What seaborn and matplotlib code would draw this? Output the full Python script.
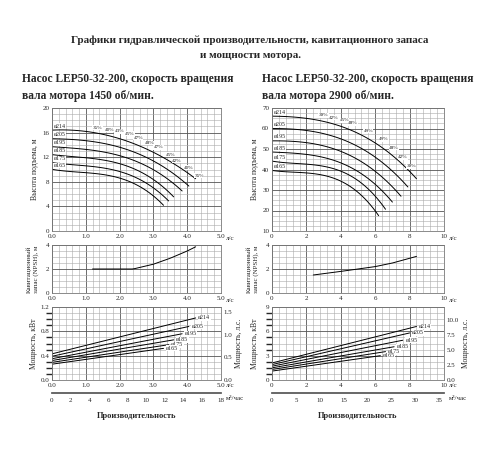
import numpy as np, pandas as pd, matplotlib
matplotlib.use("Agg")
import matplotlib.pyplot as plt
import seaborn as sns
sns.set_theme(style="white")
plt.rcParams['font.family'] = ['Liberation Serif', 'DejaVu Serif']

impellers = ["ø214", "ø205", "ø195", "ø185", "ø175", "ø165"]
# left pump, 1450 rpm
L_q = [[0, 1, 2, 3, 4, 4.25], [0, 1, 2, 3, 4.05], [0, 1, 2, 3, 3.85],
       [0, 1, 2, 3, 3.6], [0, 1, 2, 3, 3.45], [0, 1, 2, 3, 3.3]]
L_h = [[16.4, 16.2, 15.0, 12.8, 9.5, 8.5], [15.0, 14.7, 13.6, 11.4, 7.3],
       [13.7, 13.3, 12.2, 10.0, 6.5], [12.4, 12.0, 10.8, 8.5, 5.5],
       [11.1, 10.7, 9.5, 7.2, 4.8], [10.0, 9.6, 8.4, 6.0, 4.0]]
L_eff_q = [1.35, 1.7, 2.0, 2.3, 2.55, 2.9, 3.15, 3.5, 3.7, 4.05, 4.35]
L_eff_h = [16.8, 16.5, 16.2, 15.8, 15.2, 14.3, 13.6, 12.4, 11.4, 10.3, 9.0]
L_eff = ["35%", "40%", "43%", "45%", "47%", "48%", "47%", "45%", "42%", "40%", "35%"]
L_npsh_q = [1.2, 2.4, 3.0, 3.5, 4.0, 4.25]
L_npsh = [2.0, 2.0, 2.4, 2.9, 3.5, 3.85]
L_p0 = [0.43, 0.39, 0.35, 0.32, 0.29, 0.26]
L_p1 = [1.02, 0.88, 0.76, 0.66, 0.58, 0.52]
L_pq = [4.25, 4.05, 3.85, 3.6, 3.45, 3.3]
# right pump, 2900 rpm
R_q = [[0, 2, 4, 6, 8.4], [0, 2, 4, 6, 7.9], [0, 2, 4, 6, 7.5],
       [0, 2, 4, 6, 7.0], [0, 2, 4, 6, 6.6], [0, 2, 4, 6, 6.2]]
R_h = [[66, 65, 61, 53, 35.5], [60, 59, 55, 46, 31.5], [54, 53, 49, 39, 27],
       [48.5, 47.5, 43, 33, 24], [44, 43, 38.5, 28, 20], [39.5, 38.5, 34, 21, 16.5]]
R_eff_q = [3.0, 3.6, 4.2, 4.7, 5.6, 6.5, 7.1, 7.6, 8.1]
R_eff_h = [66.5, 65.3, 64, 62.5, 58.8, 54.8, 50.5, 46, 41.5]
R_eff = ["39%", "42%", "45%", "48%", "49%", "49%", "48%", "42%", "39%"]
R_npsh_q = [2.4, 4.0, 6.0, 7.0, 8.4]
R_npsh = [1.5, 1.8, 2.2, 2.5, 3.05]
R_p0 = [2.1, 1.9, 1.7, 1.5, 1.3, 1.1]
R_p1 = [6.6, 5.8, 4.9, 4.1, 3.5, 3.0]
R_pq = [8.4, 8.0, 7.6, 7.1, 6.6, 6.3]

fig = plt.figure(figsize=(5, 4.5), dpi=100)
W, H = 500, 450
def ax_at(x0, y0, x1, y1):
    return fig.add_axes([x0 / W, 1 - y1 / H, (x1 - x0) / W, (y1 - y0) / H])

fig.text(0.5, 1 - 40 / H, "Графики гидравлической производительности, кавитационного запаса",
         ha="center", va="center", fontsize=8, weight="bold")
fig.text(0.5, 1 - 55 / H, "и мощности мотора.", ha="center", va="center", fontsize=8, weight="bold")
for x0, rpm in [(22, "1450"), (262, "2900")]:
    fig.text(x0 / W, 1 - 79 / H, "Насос LEP50-32-200, скорость вращения", fontsize=8.3, weight="bold", va="center")
    fig.text(x0 / W, 1 - 96 / H, f"вала мотора {rpm} об/мин.", fontsize=8.3, weight="bold", va="center")

BOX = dict(facecolor="white", edgecolor="none", pad=0.3)

def style(ax, xmax, xmaj, ymin, ymax, ymaj, nminx=5, nminy=4):
    ax.set_xlim(0, xmax); ax.set_ylim(ymin, ymax)
    ax.set_xticks(np.arange(0, xmax + 1e-9, xmaj))
    ax.set_yticks(np.arange(ymin, ymax + 1e-9, ymaj))
    ax.set_xticks(np.linspace(0, xmax, int(round(xmax / xmaj)) * nminx + 1), minor=True)
    ax.set_yticks(np.linspace(ymin, ymax, int(round((ymax - ymin) / ymaj)) * nminy + 1), minor=True)
    ax.grid(True, which="major", color="#555", lw=0.6)
    ax.grid(True, which="minor", color="#aaa", lw=0.4)
    ax.tick_params(labelsize=5, length=0, pad=2)
    for s in ax.spines.values():
        s.set_color("#777"); s.set_linewidth(0.6)

def lines(ax, qs, hs):
    rows = []
    for name, q, h in zip(impellers, qs, hs):
        rows += [dict(d=name, q=a, h=b) for a, b in zip(q, h)]
    df = pd.DataFrame(rows)
    for name in impellers:
        sub = df[df.d == name]
        qq = np.linspace(sub.q.min(), sub.q.max(), 40)
        c = np.polyfit(sub.q, sub.h, min(3, len(sub) - 1))
        sns.lineplot(x=qq, y=np.polyval(c, qq), ax=ax, color="black", lw=0.7, legend=False)
    return df

panels = [
    dict(x0=52, x1=221, qs=L_q, hs=L_h, xmax=5, xmaj=1, hy=(0, 20, 4), effq=L_eff_q, effh=L_eff_h, eff=L_eff,
         nq=L_npsh_q, nv=L_npsh, p0=L_p0, p1=L_p1, pq=L_pq, py=(0, 1.2, 0.4), hp=1.341, hpt=[0, 0.5, 1.0, 1.5],
         m3=18, m3maj=2, fmt="{:.1f}"),
    dict(x0=272, x1=444, qs=R_q, hs=R_h, xmax=10, xmaj=2, hy=(10, 70, 10), effq=R_eff_q, effh=R_eff_h, eff=R_eff,
         nq=R_npsh_q, nv=R_npsh, p0=R_p0, p1=R_p1, pq=R_pq, py=(0, 9, 3), hp=1.341, hpt=[0, 2.5, 5, 7.5, 10],
         m3=36, m3maj=5, fmt="{:g}"),
]
for p in panels:
    a1 = ax_at(p["x0"], 108, p["x1"], 231)
    style(a1, p["xmax"], p["xmaj"], *p["hy"])
    lines(a1, p["qs"], p["hs"])
    for name, q, h in zip(impellers, p["qs"], p["hs"]):
        a1.text(0.05 * p["xmax"] / 5, h[0] + 0.012 * (p["hy"][1] - p["hy"][0]), name, fontsize=4.3,
                va="bottom", bbox=BOX)
    for q, h, t in zip(p["effq"], p["effh"], p["eff"]):
        a1.text(q, h, t, fontsize=3.8, ha="center", va="center", bbox=BOX)
    a1.set_ylabel("Высота подъема, м", fontsize=5.5, labelpad=2)
    a1.set_xticklabels([p["fmt"].format(v) for v in a1.get_xticks()])
    a1.text(1.03, -0.07, "л/с", transform=a1.transAxes, fontsize=5)

    a2 = ax_at(p["x0"], 245, p["x1"], 293)
    style(a2, p["xmax"], p["xmaj"], 0, 4, 2, nminy=4)
    qq = np.linspace(p["nq"][0], p["nq"][-1], 40)
    sns.lineplot(x=qq, y=np.interp(qq, p["nq"], p["nv"]), ax=a2, color="black", lw=0.7)
    a2.set_ylabel("Кавитационный\nзапас (NPSH), м", fontsize=5, labelpad=2)
    a2.set_xticklabels([p["fmt"].format(v) for v in a2.get_xticks()])
    a2.text(1.03, -0.18, "л/с", transform=a2.transAxes, fontsize=5)

    a3 = ax_at(p["x0"], 307, p["x1"], 380)
    style(a3, p["xmax"], p["xmaj"], *p["py"])
    for name, a, b, q in zip(impellers, p["p0"], p["p1"], p["pq"]):
        sns.lineplot(x=[0, q], y=[a, b], ax=a3, color="black", lw=0.7)
        a3.text(q + 0.015 * p["xmax"], b, name, fontsize=4.3, va="center", bbox=BOX)
    a3.set_ylabel("Мощность, кВт", fontsize=5.5, labelpad=2)
    a3.set_xticklabels([p["fmt"].format(v) for v in a3.get_xticks()])
    a3.text(1.03, -0.1, "л/с", transform=a3.transAxes, fontsize=5)
    ar = a3.twinx()
    ar.set_ylim(0, p["py"][1] * p["hp"])
    ar.set_yticks(p["hpt"])
    ar.tick_params(labelsize=5, length=0, pad=2)
    ar.set_ylabel("Мощность, л.с.", fontsize=5.5, labelpad=2)
    for s in ar.spines.values():
        s.set_visible(False)

    a4 = ax_at(p["x0"], 393, p["x1"], 394)
    a4.set_xlim(0, p["m3"]); a4.set_yticks([])
    a4.set_xticks(np.arange(0, p["m3"] + 0.1, p["m3maj"]))
    a4.tick_params(labelsize=5, length=2, pad=1)
    for s in ["left", "right", "bottom"]:
        a4.spines[s].set_visible(False)
    a4.spines["top"].set_color("#555")
    a4.text(1.03, -6, "м³/час", transform=a4.transAxes, fontsize=5)
    a4.set_xlabel("Производительность", fontsize=6, weight="bold", labelpad=6)

fig.savefig("out.png", dpi=100, facecolor="white")
